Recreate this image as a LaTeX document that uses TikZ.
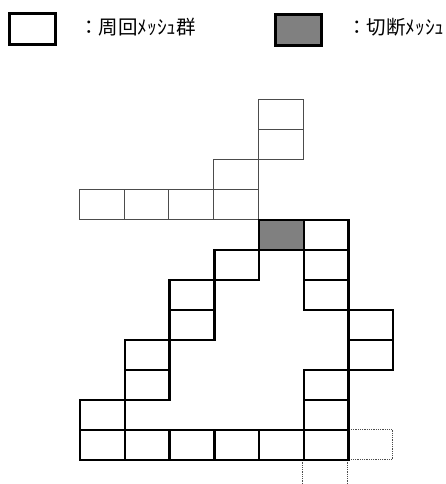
\documentclass[tikz,border=0pt]{standalone}
\usepackage{fontspec}
\newfontfamily\jpfont{Noto Sans CJK JP}
\usetikzlibrary{positioning}

\begin{document}
\begin{tikzpicture}[x=1pt, y=-1pt,
    thincell/.style={draw=black!70, line width=1pt, minimum width=44.7pt, minimum height=30pt, inner sep=0pt, anchor=north west},
    ringcell/.style={draw=black, line width=2.4pt, minimum width=44.7pt, minimum height=30pt, inner sep=0pt, anchor=north west},
    cutcell/.style={ringcell, fill=black!50},
    dotline/.style={draw=black!70, line width=0.8pt, densely dotted},
    keybox/.style={draw=black, line width=2.8pt, minimum width=46pt, minimum height=31pt, inner sep=0pt, anchor=north west},
    keytxt/.style={font=\jpfont\fontsize{19.5}{22}\selectfont, inner sep=0pt, anchor=west}
]
\useasboundingbox (0,0) rectangle (446,484);

% legend
\node[keybox] (keyring) at (8,12) {};
\node[keytxt] (keyring-txt) at (79,27) {：周回ﾒｯｼｭ群};
\node[keybox, fill=black!50] (keycut) at (274,13) {};
\node[keytxt] (keycut-txt) at (347,27) {：切断ﾒｯｼｭ};

% thin cells
\foreach \c/\r in {4/0,4/1,3/2,0/3,1/3,2/3,3/3}
  \node[thincell] (thin-\c-\r) at ({79+44.7*\c},{99+30*\r}) {};

% dotted cells
\node[thincell, dotline] (dot-6-11) at ({79+44.7*6},{99+30*11}) {};
\coordinate (dotL) at ({79+44.7*5},484);
\coordinate (dotR) at ({79+44.7*6},484);
\draw[dotline] (dotL) -- ++(0,-25);
\draw[dotline] (dotR) -- ++(0,-25);

% ring of meshes
\foreach \c/\r in {5/4,3/5,5/5,2/6,5/6,2/7,6/7,1/8,6/8,1/9,5/9,0/10,5/10,0/11,1/11,2/11,3/11,4/11,5/11}
  \node[ringcell] (ring-\c-\r) at ({79+44.7*\c},{99+30*\r}) {};
\node[cutcell] (cut) at ({79+44.7*4},{99+30*4}) {};
\end{tikzpicture}
\end{document}
